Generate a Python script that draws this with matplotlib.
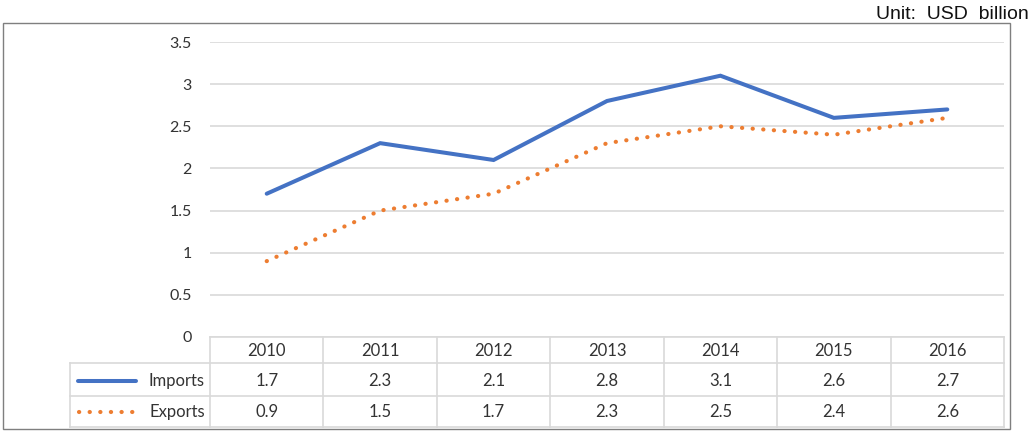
import matplotlib
matplotlib.use("Agg")
import matplotlib.pyplot as plt
from matplotlib.lines import Line2D
from matplotlib.patches import Rectangle
from matplotlib import font_manager

years = ["2010", "2011", "2012", "2013", "2014", "2015", "2016"]
imports = [1.7, 2.3, 2.1, 2.8, 3.1, 2.6, 2.7]
exports = [0.9, 1.5, 1.7, 2.3, 2.5, 2.4, 2.6]
series_names = ["Imports", "Exports"]
yticks = [0, 0.5, 1, 1.5, 2, 2.5, 3, 3.5]
ytick_labels = ["0", "0.5", "1", "1.5", "2", "2.5", "3", "3.5"]
unit_label = "Unit:  USD  billion"

W, H = 1033, 432
BLUE = "#4472C4"
ORANGE = "#ED7D31"
GRID = "#D9D9D9"
TXT = "#333333"
FONT = ["Lato", "DejaVu Sans"]
FS = 12
FS_TICK = 11.5

fig = plt.figure(figsize=(W / 100, H / 100), dpi=100)
plt.rcParams['font.family'] = FONT

names = {f.name for f in font_manager.fontManager.ttflist}
if "Liberation Sans Narrow" in names:
    unit_family = ["Liberation Sans Narrow", "Liberation Sans", "DejaVu Sans"]
    unit_fs = 17.5
else:
    unit_family = ["Liberation Sans", "DejaVu Sans"]
    unit_fs = 14


def fx(px):
    return px / W


def fy(py):
    return 1 - py / H


# plot-area geometry in pixels
L, R, T, B = 210, 1004, 42, 337
ax = fig.add_axes([fx(L), fy(B), fx(R) - fx(L), fy(T) - fy(B)])
ax.set_xlim(-0.5, len(years) - 0.5)
ax.set_ylim(0, 3.5)
for s in ax.spines.values():
    s.set_visible(False)
ax.set_yticks(yticks)
ax.set_yticklabels(ytick_labels)
ax.tick_params(axis="y", length=0, pad=13, labelsize=FS_TICK, labelcolor=TXT)
ax.set_xticks([])
ax.yaxis.grid(True, color=GRID, linewidth=1.2)
ax.set_axisbelow(True)

x = list(range(len(years)))
ax.plot(x, imports, color=BLUE, linewidth=2.9, solid_capstyle="round",
        solid_joinstyle="miter", zorder=3)
ax.plot(x, exports, color=ORANGE, linewidth=3.0, linestyle=(0, (0.05, 2.5)),
        dash_capstyle="round", zorder=3)

# outer frame
fig.add_artist(Rectangle((fx(3), fy(429)), fx(1010) - fx(3), fy(23) - fy(429),
                         transform=fig.transFigure, fill=False,
                         edgecolor="#7F7F7F", linewidth=1.0))

# data table
colw = (R - L) / len(years)
LEG_L = 70


def hline(y, x0, x1):
    fig.add_artist(Line2D([fx(x0), fx(x1)], [fy(y), fy(y)],
                          transform=fig.transFigure, color=GRID, linewidth=1.2))


def vline(xp, y0, y1):
    fig.add_artist(Line2D([fx(xp), fx(xp)], [fy(y0), fy(y1)],
                          transform=fig.transFigure, color=GRID, linewidth=1.2))


hline(337, L, R)
hline(363, LEG_L, R)
hline(396, LEG_L, R)
hline(427, LEG_L, R)
for k in range(len(years) + 1):
    vline(L + k * colw, 337, 427)
vline(LEG_L, 363, 427)


def ay(py):
    return (B - py) / (B - T)


tr = ax.get_xaxis_transform()
row_centers = [351, 381, 412]
for i, yr in enumerate(years):
    ax.text(i, ay(row_centers[0]), yr, transform=tr, ha="center", va="center",
            fontsize=FS, color=TXT, clip_on=False)
    ax.text(i, ay(row_centers[1]), f"{imports[i]:g}", transform=tr, ha="center",
            va="center", fontsize=FS, color=TXT, clip_on=False)
    ax.text(i, ay(row_centers[2]), f"{exports[i]:g}", transform=tr, ha="center",
            va="center", fontsize=FS, color=TXT, clip_on=False)

# legend keys in table
fig.add_artist(Line2D([fx(78), fx(136)], [fy(381), fy(381)], transform=fig.transFigure,
                      color=BLUE, linewidth=2.9, solid_capstyle="round"))
fig.add_artist(Line2D([fx(79), fx(136)], [fy(412), fy(412)], transform=fig.transFigure,
                      color=ORANGE, linewidth=3.0, linestyle=(0, (0.05, 2.5)),
                      dash_capstyle="round"))
fig.text(fx(205), fy(381), series_names[0], ha="right", va="center",
         fontsize=FS, color=TXT)
fig.text(fx(205), fy(412), series_names[1], ha="right", va="center",
         fontsize=FS, color=TXT)

fig.text(fx(1029), fy(19), unit_label, ha="right", va="baseline", fontsize=unit_fs,
         color="#111111", family=unit_family)

fig.savefig("out.png", dpi=100)
